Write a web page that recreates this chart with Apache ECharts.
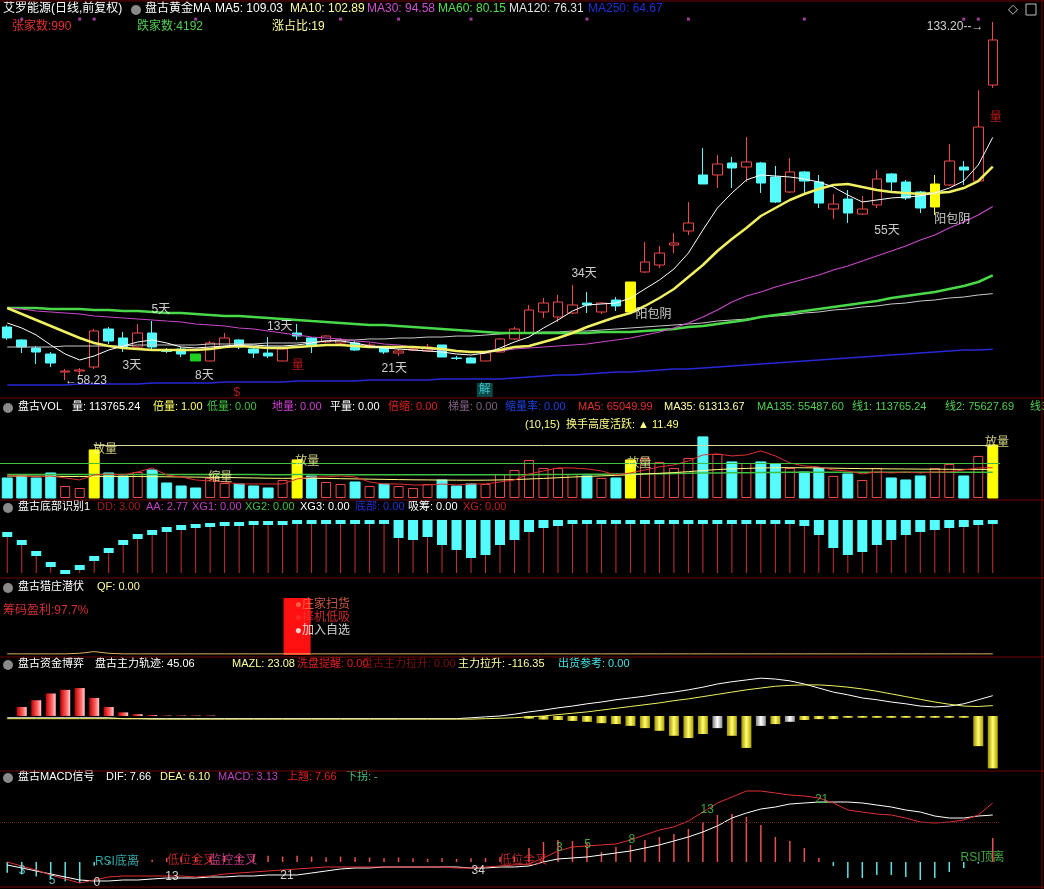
<!DOCTYPE html>
<html><head><meta charset="utf-8">
<script src="https://cdn.jsdelivr.net/npm/echarts@6.0.0/dist/echarts.min.js"></script>
<style>html,body{margin:0;padding:0;background:#000;}#c{width:1044px;height:889px;}</style>
</head><body><div id="c"></div><script>
// ---------------- DATA ----------------
const days = Array.from({length:69},(_,i)=>'D'+(i+1));
const opens  = [69.33,66.61,64.93,63.67,59.90,60.11,60.95,68.91,67.03,65.14,68.07,64.30,64.72,63.67,62.21,65.14,66.61,64.72,63.88,62.21,68.07,67.03,66.19,65.98,65.98,65.35,65.14,63.88,64.51,64.30,65.56,62.84,62.84,62.21,64.09,66.82,68.07,72.47,71.42,72.26,74.35,72.47,74.98,72.47,80.85,82.31,86.50,89.43,101.16,101.16,103.67,102.83,103.67,100.74,97.60,101.79,99.69,94.04,96.13,92.99,94.88,101.37,99.69,97.60,94.46,99.06,102.83,99.90,120.00];
const closes = [67.03,65.14,64.09,61.79,60.11,60.32,68.49,66.40,65.14,68.07,65.14,64.25,63.67,62.21,65.98,67.03,65.14,63.88,63.26,64.72,67.44,65.35,67.44,66.61,64.51,65.56,64.09,64.30,64.72,65.14,63.05,62.73,61.79,63.88,66.82,68.91,72.89,74.35,74.56,73.94,73.94,74.35,73.73,78.75,82.94,84.82,86.92,91.11,99.27,103.46,102.62,103.88,99.48,95.50,101.79,99.90,95.29,95.08,93.20,94.04,100.32,99.69,96.34,94.25,99.27,104.09,102.20,111.21,129.43];
const lows   = [66.61,63.88,61.58,60.95,58.23,59.07,60.53,65.77,64.09,64.93,64.72,63.88,63.05,62.21,62.21,65.14,64.72,62.84,62.84,62.21,66.61,63.88,65.98,65.56,64.30,64.93,63.67,63.26,64.30,64.09,63.05,62.42,61.79,62.21,64.09,66.61,67.86,71.21,70.38,72.05,72.26,72.05,72.68,72.47,80.64,81.68,84.82,88.59,99.27,98.43,98.43,99.69,97.39,95.29,97.39,96.97,94.25,91.94,91.11,92.78,94.25,97.39,95.92,93.20,92.78,98.85,99.06,99.69,119.38];
const highs  = [69.75,66.80,65.35,64.09,60.53,60.74,68.91,69.33,68.28,69.96,70.58,64.93,65.14,63.67,66.40,68.07,66.82,64.93,67.23,64.72,69.96,67.23,67.65,67.03,66.40,65.98,65.35,64.72,64.93,65.77,65.56,63.26,63.05,64.09,67.03,69.33,73.94,75.40,76.03,78.12,76.66,74.56,75.61,78.75,87.13,86.29,89.01,95.50,106.81,105.35,104.93,109.11,103.88,103.04,104.72,102.00,101.16,97.18,98.02,96.76,102.20,101.58,100.11,97.81,101.16,107.65,104.09,118.96,133.20];
const yellowCandles = [43,64];
const greenCandles = [13];

const ma5   = [70.17,69.12,67.65,65.56,63.67,62.42,63.26,64.51,65.35,66.19,66.61,65.98,65.14,64.93,65.14,65.35,65.56,65.56,65.35,65.35,65.56,65.98,66.40,66.40,65.98,65.35,64.93,64.72,64.51,64.30,64.09,63.67,63.47,63.88,64.93,66.19,67.23,69.12,70.79,72.68,73.94,74.15,74.35,75.40,77.29,79.17,81.47,84.82,89.64,94.25,97.39,100.11,101.16,100.95,100.74,100.32,99.69,98.64,96.97,95.50,95.92,96.34,96.55,96.76,97.39,98.43,99.90,103.25,109.03];
const ma10  = [73.31,72.05,70.79,69.54,68.28,67.03,65.98,65.35,64.93,64.72,64.51,64.51,64.51,64.51,64.72,65.14,65.35,65.14,64.93,64.93,65.14,65.35,65.56,65.56,65.35,65.14,65.14,65.14,65.14,64.93,64.72,64.30,64.09,64.09,64.51,65.14,65.35,66.19,67.03,68.07,69.33,70.38,71.42,72.26,73.73,75.40,77.29,79.80,82.31,85.24,87.76,90.06,92.57,94.25,95.92,97.18,98.23,99.06,99.27,98.64,98.02,97.60,97.39,97.18,97.39,97.60,98.43,99.90,102.89];
const ma30  = [73.31,73.10,72.68,72.47,72.26,72.05,71.63,71.42,71.21,71.00,70.79,70.58,70.38,69.96,69.75,69.54,69.12,68.91,68.49,68.07,67.65,67.23,67.03,66.82,66.40,66.19,65.77,65.56,65.14,64.72,64.51,64.30,64.09,64.09,64.30,64.72,64.93,65.14,65.35,65.56,65.77,66.19,66.61,67.03,67.65,68.28,69.12,70.17,71.42,72.89,74.56,75.82,76.66,77.70,78.54,79.38,80.22,81.26,82.10,83.15,84.20,85.24,86.29,87.55,88.59,90.06,91.31,92.78,94.58];
const ma60  = [73.31,73.31,73.31,73.10,73.10,73.10,72.89,72.89,72.68,72.68,72.47,72.26,72.26,72.05,71.84,71.63,71.63,71.42,71.21,71.00,70.79,70.58,70.38,70.17,69.96,69.75,69.75,69.54,69.33,69.12,68.91,68.70,68.49,68.28,68.07,68.07,68.07,68.07,68.07,68.07,68.07,68.28,68.28,68.28,68.49,68.70,68.91,69.33,69.54,69.96,70.38,70.79,71.42,71.84,72.26,72.68,73.10,73.52,73.94,74.35,74.77,75.40,75.82,76.24,76.66,77.29,77.91,78.75,80.15];
const ma120 = [65.14,65.14,65.14,65.14,65.35,65.35,65.35,65.35,65.35,65.56,65.56,65.56,65.56,65.56,65.77,65.77,65.77,65.77,65.98,65.98,65.98,66.19,66.40,66.61,66.61,66.82,66.82,67.03,67.03,67.23,67.23,67.44,67.44,67.65,67.86,68.07,68.07,68.28,68.28,68.49,68.49,68.70,68.91,69.12,69.33,69.54,69.75,69.96,70.17,70.58,70.79,71.00,71.42,71.63,71.84,72.26,72.47,72.89,73.10,73.52,73.73,74.15,74.35,74.77,74.98,75.40,75.61,76.03,76.31];
const ma250 = [57.18,57.18,57.18,57.18,57.18,57.39,57.39,57.39,57.39,57.39,57.60,57.60,57.60,57.60,57.60,57.81,57.81,57.81,57.81,57.81,58.02,58.02,58.02,58.02,58.02,58.23,58.23,58.23,58.23,58.23,58.44,58.44,58.44,58.44,58.44,58.65,58.86,59.07,59.28,59.28,59.49,59.70,59.90,59.90,60.11,60.32,60.53,60.53,60.74,60.95,61.16,61.37,61.58,61.79,62.00,62.21,62.42,62.63,62.84,63.05,63.26,63.47,63.67,63.88,64.09,64.30,64.51,64.51,64.67];

// annotations on price chart: [position index, price, text]
const priceNotes = [[10.6,72.89,'5天'],[8.6,61.16,'3天'],[13.6,59.07,'8天'],[18.8,69.33,'13天'],[26.7,60.53,'21天'],[39.8,80.43,'34天'],[60.7,89.43,'55天'],[44.6,71.84,'阳包阴'],[65.2,91.73,'阳包阴'],[5.43,58.02,'←58.23'],[65.4,132.15,'133.20--→']];
const redNotes = [[20.05,61.16,'量'],[68.2,113.1,'量'],[15.85,55.51,'$']];
const signalDots = [1,5,6,13,23,27,32,40,47,55,66,67];
const dotLevel = 133.8;

const volumes = [43000,47300,43000,53750,25800,21500,103200,53750,47300,55900,60200,32250,25800,21500,43000,32250,30100,25800,21500,38700,81700,47300,34400,30100,34400,25800,30100,25800,21500,30100,38700,25800,30100,30100,51600,60200,81700,64500,64500,51600,47300,43000,43000,81700,86000,77400,64500,86000,131150,94600,77400,75250,77400,73100,64500,55900,64500,47300,51600,38700,64500,43000,38700,47300,64500,73100,47300,90300,113765];
const yellowVol = [6,20,43,68];
const volMA5 = [47300,47300,45150,47300,43000,38700,49450,51600,49450,55900,64500,49450,45150,38700,36550,34400,30100,30100,30100,30100,40850,45150,45150,47300,45150,34400,30100,30100,27950,27950,30100,27950,30100,30100,34400,38700,51600,58050,64500,64500,62350,58050,49450,53750,60200,66650,70950,79550,92450,94600,90300,92450,101050,90300,75250,68800,66650,60200,58050,51600,55900,53750,55900,53750,55900,55900,60200,64500,65050];
const volMA35 = [47000,47000,46800,46500,46200,46000,46200,46300,46200,46000,45800,45500,45200,44800,44500,44000,43500,43000,42500,42200,42500,42300,42000,41500,41000,40500,40000,39500,39000,38800,38500,38300,38200,38300,38800,39500,40800,42000,43500,45000,46300,47500,48500,50000,51500,53000,54500,56500,59000,61000,62500,63500,64500,65000,65000,64800,64500,64000,63500,63000,62800,62500,62300,62000,61800,61600,61500,61400,61314];
const volMA135 = [50500,50500,50400,50400,50300,50300,50400,50400,50400,50400,50500,50500,50400,50400,50300,50300,50200,50200,50100,50100,50200,50200,50100,50100,50000,50000,49900,49900,49800,49800,49800,49700,49700,49700,49800,49900,50100,50300,50500,50700,50900,51100,51300,51600,51900,52200,52500,52900,53400,53800,54100,54400,54700,54900,55100,55200,55300,55300,55300,55300,55300,55300,55300,55300,55300,55400,55400,55450,55488];
const volLine1 = 113765.24, volLine2 = 75627.69;
const volLine1Start = 6;
const volNotes = [[6.74,103000,'放量'],[14.7,42900,'缩量'],[20.7,77256,'放量'],[43.6,72964,'放量'],[68.3,118000,'放量']];

// bottom-recognition panel: top of cyan block (depth), block size
const botTop   = [12,20,31,42,50,45,36,28,20,14,10,7,5,4,3,2,2,1,1,1,0,0,0,0,0,0,0,0,0,0,0,0,0,0,0,0,0,0,0,0,0,0,0,0,0,0,0,0,0,0,0,0,0,0,0,0,0,0,0,0,0,0,0,0,0,0,0,0,0];
const botBlock = [5,5,5,5,4,5,5,5,5,5,5,5,5,4,4,4,4,4,4,4,4,4,4,4,4,4,4,18,20,17,25,30,38,35,25,20,12,8,6,4,4,4,4,4,4,4,4,4,4,4,4,4,4,4,4,6,15,28,35,32,25,20,15,12,10,8,7,5,4];

// 猎庄 panel
const lzLine = [2,2,2,2,2,3,6,3,2,2,2,2,2,2,2,2,2,2,2,2,2,2,2,2,2,2,2,2,2,2,2,2,2,2,2,2,2,2,2,2,2,2,2,2,2,2,2,2,2,2,2,2,2,2,2,2,2,2,2,2,2,2,2,2,2,2,2,2,2];
const lzSignal = [[20,100]];
const lzNotes = [[19.84,87.7,'●庄家扫货','#ff7050'],[19.84,64.9,'●择机低吸','#ff3030'],[19.84,42.1,'●加入自选','#ffffff']];

// 资金博弈 panel
const zjBars = [0,20,35,50,58,62,40,20,8,4,2,1,1,1,1,0,0,0,0,0,0,0,0,0,0,0,0,0,0,0,0,0,0,0,0,0,-6,-8,-9,-11,-13,-16,-18,-22,-27,-33,-44,-49,-40,-27,-44,-71,-22,-18,-13,-9,-7,-7,-4,-4,-4,-4,-4,-4,-4,-4,-4,-67,-116.35];
const zjWhite = [49,52,54];
const zjTrack = [-4,-4,-4,-4,-4,-4,-4,-4,-6,-6,-6,-6,-6,-6,-6,-6,-6,-6,-6,-6,-6,-6,-6,-6,-6,-6,-6,-6,-6,-6,-6,-6,-4,-2,0,4,9,13,18,22,27,31,36,40,44,49,53,58,64,71,76,80,84,82,78,71,62,53,47,40,36,31,27,22,20,22,27,36,45.06];
const zjMAZL = [-6,-6,-6,-6,-6,-6,-6,-6,-6,-6,-7,-7,-7,-7,-7,-7,-7,-7,-7,-7,-7,-7,-7,-7,-7,-7,-7,-7,-7,-7,-7,-7,-7,-6,-5,-4,-2,0,3,6,9,13,17,21,25,29,34,38,43,48,53,58,62,66,68,69,69,67,64,60,55,49,43,37,31,26,22,21,23.08];

// MACD panel
const macdHist = [-1.4,-1.6,-1.9,-2.2,-2.5,-2.7,-0.5,-0.2,0.1,0.2,0.3,0.5,0.6,0.6,0.7,0.8,0.8,0.9,0.8,0.7,0.8,0.7,0.6,0.7,0.6,0.6,0.5,0.6,0.5,0.4,0.5,0.4,0.5,0.5,0.6,0.7,1.82,2.60,2.86,2.73,2.47,1.30,1.95,2.21,2.86,3.25,3.64,4.29,5.19,6.10,6.23,5.84,4.81,3.25,2.73,1.82,0.52,-0.52,-2.08,-2.08,-1.69,-1.69,-1.95,-2.34,-2.08,-1.30,-0.78,-0.20,3.13];
const dif = [0,-0.52,-1.04,-1.69,-2.21,-2.73,-2.34,-1.95,-1.82,-1.82,-1.82,-1.82,-1.82,-1.95,-1.82,-1.56,-1.43,-1.30,-1.17,-1.04,-0.91,-0.78,-0.65,-0.65,-0.65,-0.65,-0.65,-0.65,-0.65,-0.65,-0.65,-0.78,-0.78,-0.65,-0.52,-0.39,-0.26,0.52,1.43,1.95,2.08,2.21,2.34,2.86,3.51,4.16,4.55,5.32,6.49,7.66,8.44,9.22,9.22,8.96,8.70,8.57,8.31,7.66,6.75,6.49,6.23,6.10,5.71,5.19,5.06,5.19,5.45,6.10,7.66];
const dea = [-0.39,-0.78,-1.17,-1.56,-1.95,-2.34,-2.47,-2.47,-2.34,-2.34,-2.21,-2.08,-2.08,-2.08,-1.95,-1.95,-1.82,-1.82,-1.69,-1.69,-1.69,-1.43,-1.17,-0.91,-0.78,-0.78,-0.65,-0.65,-0.65,-0.65,-0.65,-0.65,-0.78,-0.78,-0.65,-0.65,-0.52,0,0.39,0.52,0.65,0.91,1.17,1.43,1.82,2.21,2.73,3.25,3.90,4.68,5.71,6.36,6.88,7.14,7.53,7.66,7.79,7.79,7.79,7.66,7.40,7.14,6.75,6.49,5.97,5.71,5.71,5.97,6.10];
const macdRef = 5.2;
const macdNotes = [[1.02,-1.17,'3','#80e0e0'],[3.09,-2.47,'5','#80e0e0'],[6.19,-2.73,'0','#ffffff'],[7.57,0.1,'RSI底离','#40d0d0'],[12.7,0.13,'低位金叉','#e03030'],[15.6,0.13,'监控金叉','#e040a0'],[11.36,-1.95,'13','#ffffff'],[19.3,-1.82,'21','#ffffff'],[32.5,-1.17,'34','#ffffff'],[35.6,0.13,'低位金叉','#e03030'],[38.1,1.82,'3','#50d050'],[40.05,2.2,'5','#50d050'],[43.09,2.86,'8','#50d050'],[48.3,6.75,'13','#50d050'],[56.19,8.05,'21','#50d050'],[67.3,0.52,'RSI顶离','#50d050']];

// header texts: [x, text, color]
const head1 = [[3,'艾罗能源(日线,前复权)','#ffffff'],[145,'盘古黄金MA','#ffffff'],[215,'MA5: 109.03','#ffffff'],[290,'MA10: 102.89','#ffff99'],[367,'MA30: 94.58','#d050d0'],[438,'MA60: 80.15','#50e050'],[509,'MA120: 76.31','#e0e0e0'],[588,'MA250: 64.67','#2030d0']];
const head2 = [[12,'张家数:990','#e03030'],[137,'跌家数:4192','#50d050'],[272,'涨占比:19','#ffff99']];
const headVol = [[18,'盘古VOL','#ffffff'],[72,'量: 113765.24','#ffffff'],[153,'倍量: 1.00','#ffff66'],[207,'低量: 0.00','#40c040'],[272,'地量: 0.00','#d040d0'],[330,'平量: 0.00','#ffffff'],[388,'倍缩: 0.00','#e02020'],[448,'梯量: 0.00','#806080'],[505,'缩量率: 0.00','#2040e0'],[578,'MA5: 65049.99','#e03030'],[664,'MA35: 61313.67','#ffffa0'],[757,'MA135: 55487.60','#50d050'],[852,'线1: 113765.24','#50d050'],[945,'线2: 75627.69','#50d050'],[1030,'线3','#50d050']];
const headBot = [[18,'盘古底部识别1','#ffffff'],[97,'DD: 3.00','#a02020'],[146,'AA: 2.77','#c040c0'],[192,'XG1: 0.00','#c040c0'],[245,'XG2: 0.00','#40c040'],[300,'XG3: 0.00','#ffffff'],[355,'底部: 0.00','#2030d0'],[408,'吸筹: 0.00','#ffffff'],[463,'XG: 0.00','#c02020']];
const headLz = [[18,'盘古猎庄潜伏','#ffffff'],[97,'QF: 0.00','#ffff99']];
const headZj = [[18,'盘古资金博弈','#ffffff'],[95,'盘古主力轨迹: 45.06','#ffffff'],[232,'MAZL: 23.08','#ffff99'],[297,'洗盘提醒: 0.00','#e02020'],[362,'盘古主力拉升: 0.00','#801010'],[458,'主力拉升: -116.35','#ffffa0'],[558,'出货参考: 0.00','#40e0e0']];
const headMacd = [[18,'盘古MACD信号','#ffffff'],[106,'DIF: 7.66','#ffffff'],[160,'DEA: 6.10','#ffff99'],[218,'MACD: 3.13','#c040c0'],[287,'上翘: 7.66','#e02020'],[346,'下拐: -','#40c080']];

// ---------------- CHART ----------------
const FONT = '"Liberation Sans", "Noto Sans CJK SC", sans-serif';
const chart = echarts.init(document.getElementById('c'), null, {width:1044, height:889});
const N = days.length;
const grids = [
  {left:0, top:15, width:1000, height:380},
  {left:0, top:420, width:1000, height:78},
  {left:0, top:520, width:1000, height:53},
  {left:0, top:598, width:1000, height:57},
  {left:0, top:675, width:1000, height:95},
  {left:0, top:790, width:1000, height:95}
];
const xAxis = [], yAxis = [];
grids.forEach((g,i)=>{
  xAxis.push({type:'category', gridIndex:i, data:days, show:false, boundaryGap:true});
  xAxis.push({type:'value', gridIndex:i, min:-0.5, max:N-0.5, show:false});
});
const yr = [[55.09,134.66,false],[0,167400,false],[0,53,true],[0,100,false],[-120,91,false],[-2.99,9.35,false]];
yr.forEach((r,i)=>yAxis.push({type:'value', gridIndex:i, min:r[0], max:r[1], inverse:r[2], show:false, splitLine:{show:false}}));

function line(name, data, color, width, xi, yi, extra){
  return Object.assign({type:'line', name, data, xAxisIndex:xi, yAxisIndex:yi, symbol:'none', silent:true,
    lineStyle:{color, width}, itemStyle:{color}, z:3}, extra||{});
}
function notes(arr, xi, yi, color, size, extra){
  return Object.assign({type:'scatter', xAxisIndex:xi, yAxisIndex:yi, symbolSize:1, silent:true, z:10,
    itemStyle:{color:'rgba(0,0,0,0)'},
    data: arr.map(a=>({value:[a[0],a[1]], name:a[2], label:{color:a[3]||color}})),
    label:{show:true, position:'inside', formatter:'{b}', fontSize:size||12, fontFamily:FONT, color}}, extra||{});
}

const candleData = opens.map((o,i)=>{
  const item = {value:[o, closes[i], lows[i], highs[i]]};
  if (yellowCandles.includes(i)) item.itemStyle = {color:'#ffff00', color0:'#ffff00', borderColor:'#ffff00', borderColor0:'#ffff00'};
  if (greenCandles.includes(i)) item.itemStyle = {color:'#20d020', color0:'#20d020', borderColor:'#20d020', borderColor0:'#20d020'};
  return item;
});

const volData = volumes.map((v,i)=>{
  const up = closes[i] >= opens[i];
  let st = up ? {color:'#000', borderColor:'#f04848', borderWidth:1} : {color:'#54fcfc', borderColor:'#54fcfc'};
  if (yellowVol.includes(i)) st = {color:'#ffff00', borderColor:'#ffff00'};
  return {value:v, itemStyle:st};
});

const series = [
  {type:'candlestick', xAxisIndex:0, yAxisIndex:0, data:candleData, barWidth:10, silent:true, z:2,
   itemStyle:{color:'#000', color0:'#54fcfc', borderColor:'#f04848', borderColor0:'#54fcfc', borderWidth:1}},
  line('MA250', ma250, '#2828d8', 1.5, 0, 0),
  line('MA120', ma120, '#c8c8c8', 1, 0, 0),
  line('MA60', ma60, '#48d848', 2.5, 0, 0),
  line('MA30', ma30, '#c848c8', 1.2, 0, 0),
  line('MA10', ma10, '#f0f060', 2.5, 0, 0),
  line('MA5', ma5, '#ffffff', 1, 0, 0),
  notes(priceNotes, 1, 0, '#ffffff', 12),
  notes(redNotes, 1, 0, '#e02020', 12),
  {type:'scatter', xAxisIndex:0, yAxisIndex:0, symbol:'rect', symbolSize:[3,3], silent:true,
   itemStyle:{color:'#c050c0'}, data: signalDots.map(i=>[i, dotLevel])},
  notes([[32.95,56.14,'解']], 1, 0, '#40e0e0', 12, {label:{show:true, position:'inside', formatter:'{b}', color:'#80ffff', fontFamily:FONT, fontSize:12, backgroundColor:'#105858', padding:[1,2]}}),
  // volume
  {type:'bar', xAxisIndex:2, yAxisIndex:1, data:volData, barWidth:10, silent:true},
  line('VMA135', volMA135, '#40c040', 1.5, 2, 1),
  line('VMA35', volMA35, '#ffff80', 1, 2, 1),
  line('VMA5', volMA5, '#e03030', 1, 2, 1, {markLine:{silent:true, symbol:'none', label:{show:false},
     data:[[{coord:[volLine1Start, volLine1]},{coord:[N-1, volLine1]}],
           {yAxis:volLine2, lineStyle:{color:'#40c040', width:1, type:'solid'}}],
     lineStyle:{color:'#d8d8a0', width:1, type:'solid'}}}),
  notes(volNotes, 3, 1, '#ffffa0', 12),
  // bottom recognition
  {type:'custom', xAxisIndex:4, yAxisIndex:2, silent:true, data: botTop.map((c,i)=>[i, c, botBlock[i]]),
   renderItem:(params, api)=>{
     const i = api.value(0), c = api.value(1), b = api.value(2);
     const p0 = api.coord([i, c]), p1 = api.coord([i, c+b]), p2 = api.coord([i, 53]);
     return {type:'group', children:[
       {type:'line', shape:{x1:p0[0], y1:p1[1], x2:p0[0], y2:p2[1]}, style:{stroke:'#c83030', lineWidth:1}},
       {type:'rect', shape:{x:p0[0]-5, y:p0[1], width:10, height:p1[1]-p0[1]}, style:{fill:'#54fcfc'}}
     ]};
   }},
  // 猎庄
  line('lz', lzLine, '#e0b060', 1, 6, 3),
  {type:'bar', xAxisIndex:7, yAxisIndex:3, data:lzSignal, barWidth:27, silent:true, itemStyle:{color:'#ff1010'}, z:2},
  {type:'scatter', xAxisIndex:7, yAxisIndex:3, symbolSize:1, silent:true, z:10, itemStyle:{color:'rgba(0,0,0,0)'},
   data: lzNotes.map(a=>({value:[a[0],a[1]], name:a[2], label:{color:a[3]}})),
   label:{show:true, position:'inside', align:'left', formatter:'{b}', fontSize:12, fontFamily:FONT}},
  // 资金博弈
  {type:'bar', xAxisIndex:8, yAxisIndex:4, barWidth:10, silent:true,
   data: zjBars.map((v,i)=>{
     let c;
     if (v >= 0) c = new echarts.graphic.LinearGradient(0,0,1,0,[{offset:0,color:'#c00000'},{offset:0.6,color:'#ff6060'},{offset:1,color:'#ffd0d0'}]);
     else if (zjWhite.includes(i)) c = new echarts.graphic.LinearGradient(0,0,1,0,[{offset:0,color:'#808080'},{offset:0.5,color:'#ffffff'},{offset:1,color:'#909090'}]);
     else c = new echarts.graphic.LinearGradient(0,0,1,0,[{offset:0,color:'#a09000'},{offset:0.5,color:'#ffff70'},{offset:1,color:'#b0a000'}]);
     return {value:v, itemStyle:{color:c}};
   })},
  line('track', zjTrack, '#ffffff', 1, 8, 4),
  line('mazl', zjMAZL, '#f0f060', 1, 8, 4),
  // MACD
  {type:'bar', xAxisIndex:10, yAxisIndex:5, barWidth:1.5, silent:true,
   data: macdHist.map(v=>({value:v, itemStyle:{color: v>=0 ? '#e85050' : '#60e0e0'}})),
   markLine:{silent:true, symbol:'none', label:{show:false}, data:[{yAxis:macdRef, lineStyle:{color:'#702020', type:'dotted', width:1}}]}},
  line('DEA', dea, '#ffffff', 1, 10, 5),
  line('DIF', dif, '#e03030', 1, 10, 5),
  notes(macdNotes, 11, 5, '#ffffff', 12)
];
const difIndex = series.length - 2;

const graphic = [];
function headRow(arr, y, icon, size){
  if (icon) graphic.push({type:'circle', shape:{cx:8, cy:y, r:5}, style:{fill:'#8a8a8a'}});
  const fs = size || 11;
  arr.forEach(a=>graphic.push({type:'text', x:a[0], y:y-Math.round(fs*0.6), style:{text:a[1], fill:a[2], font:fs+'px '+FONT}}));
}
headRow(head1, 10, false, 12);
graphic.push({type:'circle', shape:{cx:136, cy:10, r:5}, style:{fill:'#8a8a8a'}});
headRow(head2, 28, false, 12);
headRow(headVol, 408, true);
headRow(headBot, 508, true);
headRow(headLz, 588, true);
headRow(headZj, 665, true);
headRow(headMacd, 778, true);
graphic.push({type:'text', x:3, y:605, style:{text:'筹码盈利:97.7%', fill:'#d03030', font:'12px '+FONT}});
graphic.push({type:'text', x:525, y:419, style:{text:'(10,15)  换手高度活跃: ▲ 11.49', fill:'#ffff80', font:'11px '+FONT}});
graphic.push({type:'text', x:1008, y:3, style:{text:'◇', fill:'#c0c0c0', font:'13px "DejaVu Sans"'}});
graphic.push({type:'rect', shape:{x:1026, y:4, width:10, height:11}, style:{fill:'none', stroke:'#c0c0c0', lineWidth:1}});
[398, 500, 578, 657, 771].forEach(y=>graphic.push({type:'line', shape:{x1:0, y1:y, x2:1044, y2:y}, style:{stroke:'#700000', lineWidth:1}}));
graphic.push({type:'line', shape:{x1:1042, y1:0, x2:1042, y2:889}, style:{stroke:'#700000', lineWidth:1}});
graphic.push({type:'line', shape:{x1:0, y1:1, x2:1044, y2:1}, style:{stroke:'#700000', lineWidth:1}});
graphic.push({type:'line', shape:{x1:0, y1:887, x2:1044, y2:887}, style:{stroke:'#700000', lineWidth:1}});

chart.setOption({
  backgroundColor:'#000',
  animation:false,
  grid:grids, xAxis, yAxis, series, graphic,
  visualMap:[{type:'piecewise', show:false, seriesIndex:difIndex, dimension:0,
    pieces:[{lte:5, color:'#50c8c8'},{gt:5, lt:56, color:'#e03030'},{gte:56, lte:66, color:'#50a8b8'},{gt:66, color:'#e03030'}]}]
});
</script></body></html>
